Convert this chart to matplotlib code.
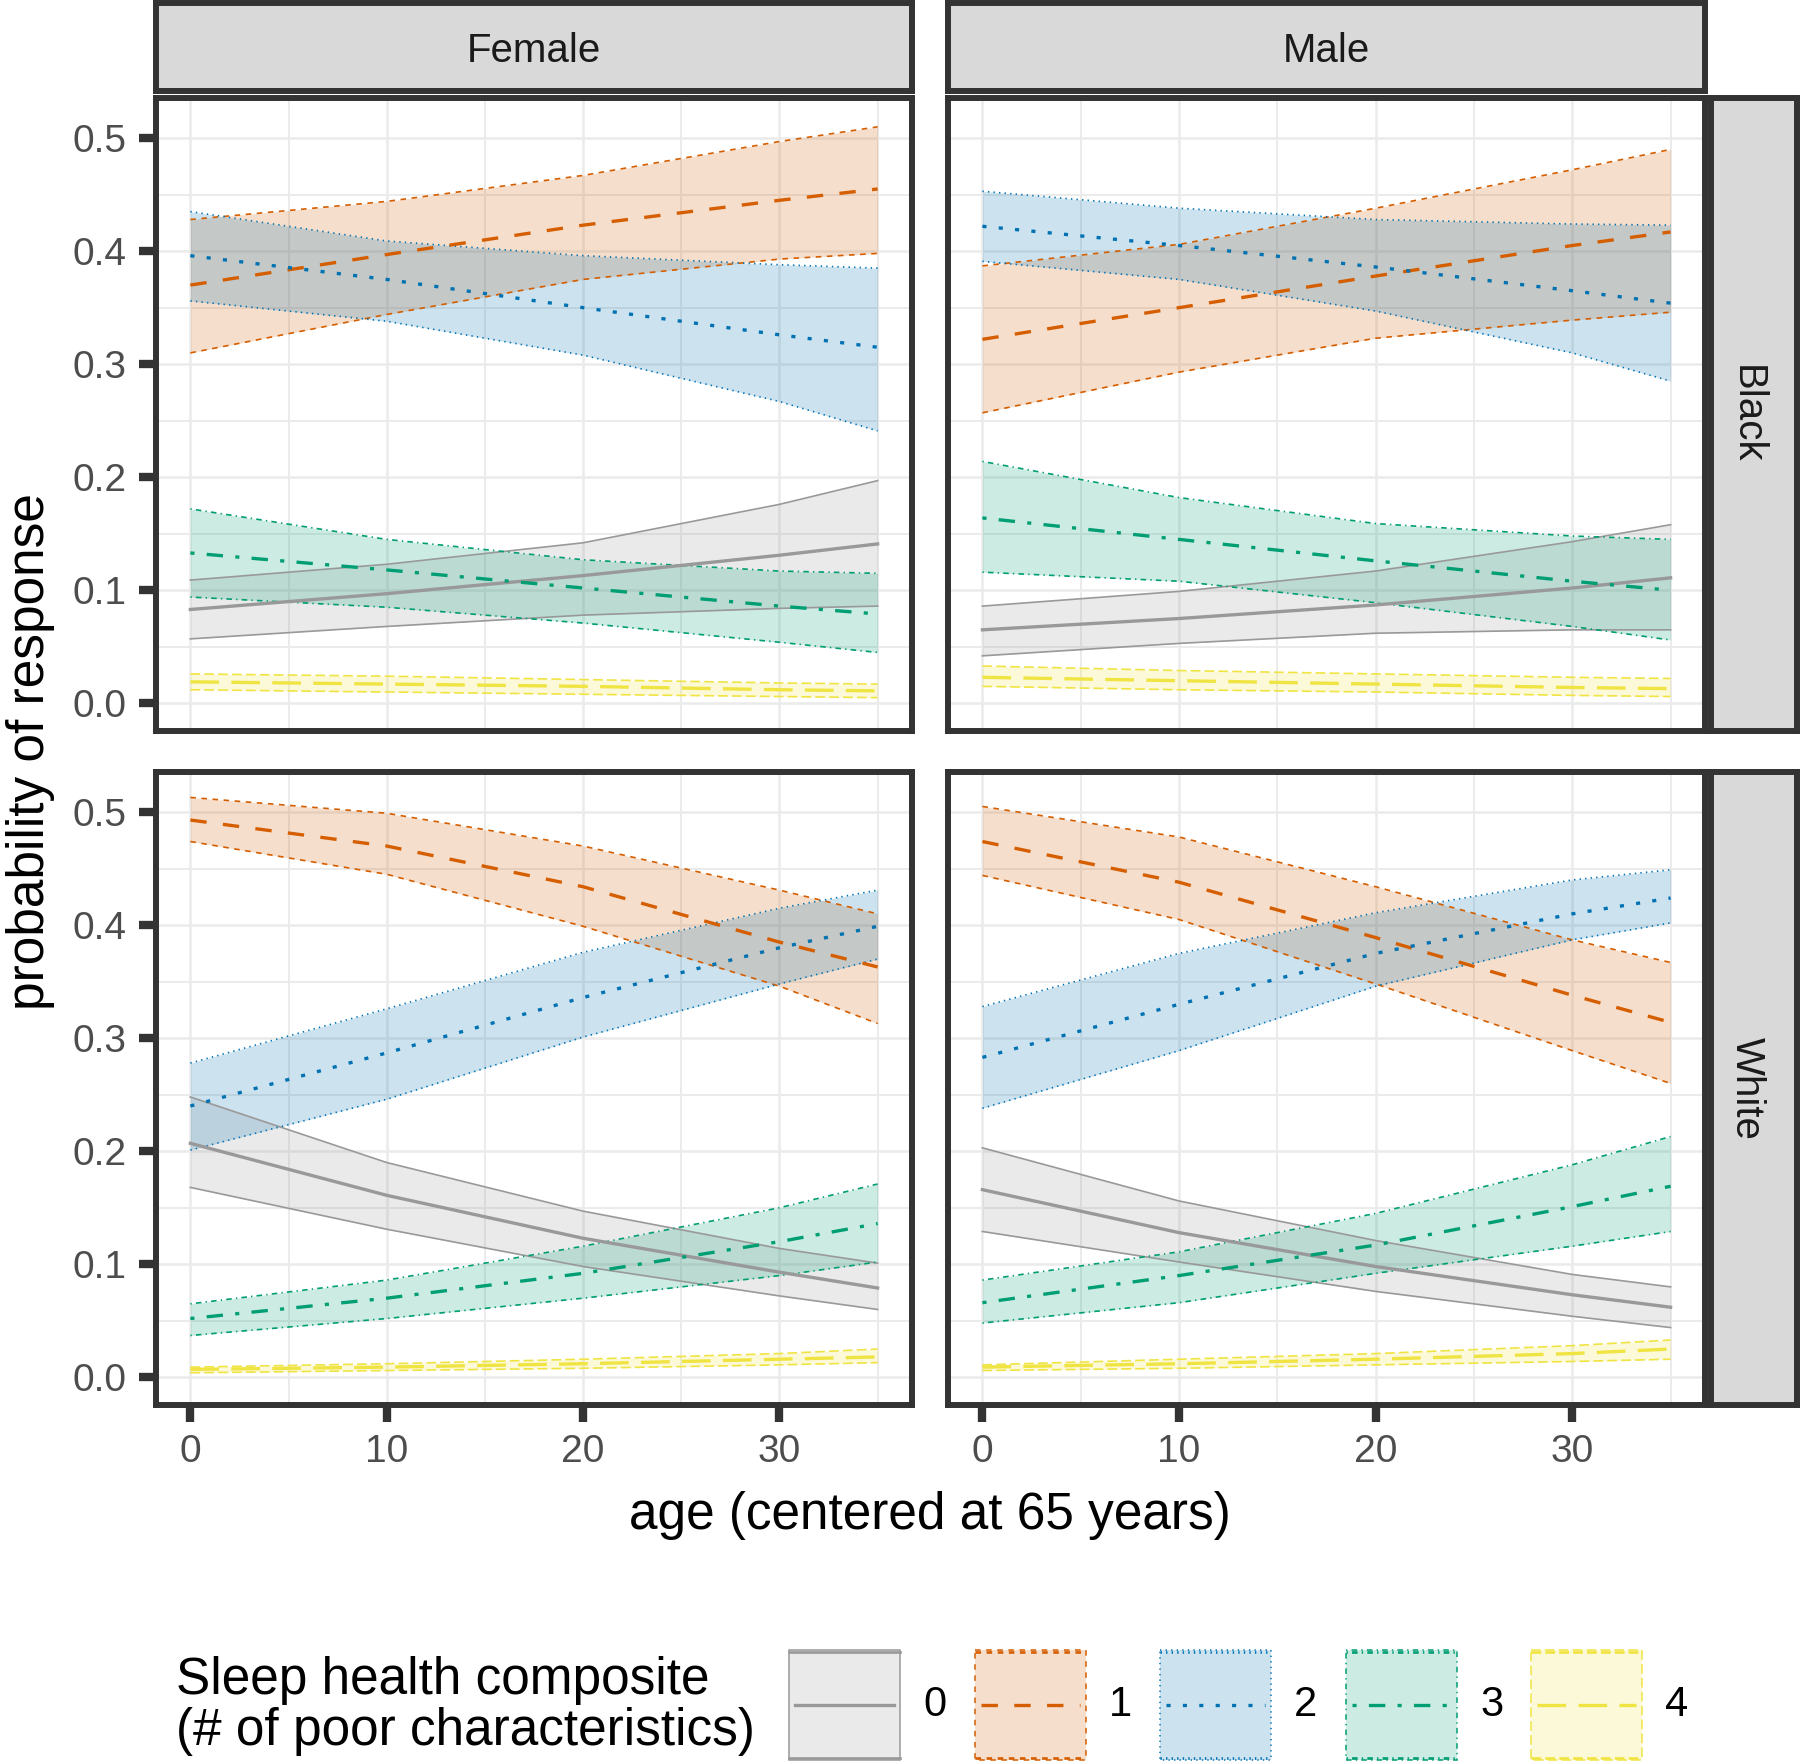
import matplotlib.pyplot as plt
from matplotlib.patches import Rectangle
from matplotlib.ticker import MultipleLocator

plt.rcParams['font.family'] = ['Liberation Sans', 'DejaVu Sans']
plt.rcParams['lines.scale_dashes'] = False

# ---- data ----
age = [0, 10, 20, 30, 35]
levels = ['0', '1', '2', '3', '4']
sex_labels = ['Female', 'Male']
race_labels = ['Black', 'White']
x_ticks = [0, 10, 20, 30]
y_ticks = [0.0, 0.1, 0.2, 0.3, 0.4, 0.5]

# one row per sleep health level (0..4), one column per age value
female_black_fit = [[0.083, 0.097, 0.113, 0.131, 0.141],
                    [0.370, 0.397, 0.423, 0.445, 0.455],
                    [0.396, 0.375, 0.350, 0.326, 0.315],
                    [0.133, 0.118, 0.102, 0.086, 0.079],
                    [0.019, 0.017, 0.015, 0.012, 0.011]]
female_black_low = [[0.057, 0.068, 0.078, 0.084, 0.086],
                    [0.310, 0.344, 0.375, 0.393, 0.398],
                    [0.356, 0.338, 0.308, 0.267, 0.241],
                    [0.094, 0.085, 0.071, 0.054, 0.045],
                    [0.012, 0.010, 0.008, 0.006, 0.005]]
female_black_high = [[0.109, 0.123, 0.142, 0.176, 0.197],
                     [0.428, 0.444, 0.467, 0.497, 0.510],
                     [0.435, 0.409, 0.396, 0.388, 0.385],
                     [0.172, 0.145, 0.127, 0.117, 0.115],
                     [0.026, 0.024, 0.021, 0.018, 0.017]]

male_black_fit = [[0.065, 0.075, 0.087, 0.102, 0.111],
                  [0.322, 0.350, 0.378, 0.405, 0.417],
                  [0.422, 0.405, 0.386, 0.365, 0.354],
                  [0.164, 0.145, 0.126, 0.108, 0.100],
                  [0.023, 0.020, 0.017, 0.014, 0.013]]
male_black_low = [[0.042, 0.053, 0.062, 0.065, 0.065],
                  [0.257, 0.293, 0.323, 0.339, 0.346],
                  [0.391, 0.375, 0.347, 0.310, 0.285],
                  [0.116, 0.108, 0.089, 0.068, 0.056],
                  [0.015, 0.012, 0.010, 0.007, 0.006]]
male_black_high = [[0.086, 0.099, 0.117, 0.143, 0.158],
                   [0.387, 0.406, 0.438, 0.472, 0.490],
                   [0.453, 0.438, 0.428, 0.424, 0.423],
                   [0.214, 0.182, 0.159, 0.148, 0.145],
                   [0.033, 0.029, 0.026, 0.023, 0.022]]

female_white_fit = [[0.207, 0.161, 0.123, 0.093, 0.079],
                    [0.493, 0.470, 0.434, 0.385, 0.363],
                    [0.240, 0.287, 0.336, 0.380, 0.399],
                    [0.052, 0.070, 0.092, 0.120, 0.136],
                    [0.007, 0.009, 0.012, 0.016, 0.018]]
female_white_low = [[0.168, 0.131, 0.098, 0.072, 0.060],
                    [0.474, 0.445, 0.399, 0.346, 0.313],
                    [0.201, 0.246, 0.301, 0.348, 0.370],
                    [0.037, 0.052, 0.070, 0.090, 0.102],
                    [0.004, 0.006, 0.008, 0.011, 0.013]]
female_white_high = [[0.248, 0.190, 0.147, 0.114, 0.101],
                     [0.513, 0.499, 0.470, 0.431, 0.410],
                     [0.278, 0.326, 0.376, 0.415, 0.431],
                     [0.065, 0.086, 0.116, 0.150, 0.171],
                     [0.009, 0.012, 0.016, 0.021, 0.025]]

male_white_fit = [[0.166, 0.128, 0.098, 0.073, 0.062],
                  [0.474, 0.438, 0.389, 0.338, 0.314],
                  [0.283, 0.330, 0.375, 0.410, 0.424],
                  [0.066, 0.090, 0.117, 0.151, 0.169],
                  [0.009, 0.012, 0.016, 0.021, 0.025]]
male_white_low = [[0.129, 0.102, 0.076, 0.054, 0.044],
                  [0.444, 0.405, 0.348, 0.289, 0.260],
                  [0.238, 0.289, 0.346, 0.387, 0.402],
                  [0.048, 0.066, 0.092, 0.116, 0.129],
                  [0.006, 0.008, 0.011, 0.014, 0.016]]
male_white_high = [[0.203, 0.156, 0.121, 0.091, 0.080],
                   [0.505, 0.478, 0.434, 0.387, 0.367],
                   [0.328, 0.375, 0.411, 0.440, 0.449],
                   [0.086, 0.111, 0.145, 0.188, 0.213],
                   [0.011, 0.016, 0.021, 0.028, 0.033]]

# ---- styling ----
colors = ['#999999', '#D55E00', '#0072B2', '#009E73', '#F0E442']
patterns = [None, (4, 4), (1, 3), (1, 3, 4, 3), (7, 3)]
MEAN_LW, MEAN_U = 2.4, 2.95
EDGE_LW, EDGE_U = 1.2, 1.0
DARK = '#333333'
GRID = '#EBEBEB'


def dash(i, unit):
    if patterns[i] is None:
        return '-'
    return (0, tuple(v * unit for v in patterns[i]))


W, H = 1800, 1762
fig = plt.figure(figsize=(W / 100, H / 100), dpi=100)


def box(x0, y0, x1, y1):
    return [x0 / W, 1 - y1 / H, (x1 - x0) / W, (y1 - y0) / H]


col_x = [(156, 912), (948, 1705)]
row_y = [(98, 731), (772, 1405)]

panels = {(0, 0): (female_black_fit, female_black_low, female_black_high),
          (0, 1): (male_black_fit, male_black_low, male_black_high),
          (1, 0): (female_white_fit, female_white_low, female_white_high),
          (1, 1): (male_white_fit, male_white_low, male_white_high)}

for (r, c), (fit, low, high) in panels.items():
    ax = fig.add_axes(box(col_x[c][0], row_y[r][0], col_x[c][1], row_y[r][1]))
    for i in range(len(levels)):
        ax.fill_between(age, low[i], high[i], color=colors[i], alpha=0.2, lw=0)
        ax.plot(age, low[i], color=colors[i], lw=EDGE_LW, ls=dash(i, EDGE_U))
        ax.plot(age, high[i], color=colors[i], lw=EDGE_LW, ls=dash(i, EDGE_U))
    for i in range(len(levels)):
        ax.plot(age, fit[i], color=colors[i], lw=MEAN_LW, ls=dash(i, MEAN_U))
    ax.set_xlim(-1.75, 36.75)
    ax.set_ylim(-0.0245, 0.5355)
    ax.set_xticks(x_ticks)
    ax.set_yticks(y_ticks)
    ax.xaxis.set_minor_locator(MultipleLocator(5))
    ax.yaxis.set_minor_locator(MultipleLocator(0.05))
    ax.set_axisbelow(True)
    ax.grid(which='major', color=GRID, lw=1.8)
    ax.grid(which='minor', color=GRID, lw=1.4)
    ax.tick_params(which='minor', length=0)
    ax.tick_params(which='major', length=12, width=6, color=DARK, pad=9,
                   labelsize=28, labelcolor='#4D4D4D')
    if c == 0:
        ax.set_yticklabels([f'{v:.1f}' for v in y_ticks])
    else:
        ax.tick_params(axis='y', length=0, labelleft=False)
    if r == 1:
        ax.set_xticklabels([str(v) for v in x_ticks])
    else:
        ax.tick_params(axis='x', length=0, labelbottom=False)
    for s in ax.spines.values():
        s.set_color(DARK)
        s.set_linewidth(4.3)


def strip(rect, label, rotation, dx=0.0, dy=0.0):
    sa = fig.add_axes(rect)
    sa.set_facecolor('#D9D9D9')
    sa.set_xticks([])
    sa.set_yticks([])
    for s in sa.spines.values():
        s.set_color(DARK)
        s.set_linewidth(4.3)
    sa.text(0.5 + dx, 0.5 + dy, label, transform=sa.transAxes, ha='center',
            va='center', rotation=rotation, fontsize=29, color='#1A1A1A')


for c in range(2):
    strip(box(col_x[c][0], 3, col_x[c][1], 91), sex_labels[c], 0, dy=-0.05)
for r in range(2):
    strip(box(1711, row_y[r][0], 1797, row_y[r][1]), race_labels[r], -90,
          dx=-0.08)

fig.text(930 / W, 1 - 1515 / H, 'age (centered at 65 years)', ha='center',
         va='center', fontsize=37)
fig.text(31 / W, 1 - 752 / H, 'probability of response', ha='center',
         va='center', rotation=90, fontsize=37)

# ---- legend ----
lg = fig.add_axes([0, 0, 1, 1], zorder=-1)
lg.set_xlim(0, W)
lg.set_ylim(H, 0)
lg.axis('off')
lg.text(176, 1706, 'Sleep health composite\n(# of poor characteristics)',
        ha='left', va='center', fontsize=37, linespacing=1.05)
key_w, key_h, key_top = 111, 110, 1650
for i, lab in enumerate(levels):
    x0 = 789 + i * 185.5
    lg.add_patch(Rectangle((x0, key_top), key_w, key_h, facecolor=colors[i],
                           alpha=0.2, lw=0))
    lg.add_patch(Rectangle((x0, key_top), key_w, key_h, facecolor='none',
                           edgecolor=colors[i], lw=1.1, ls=dash(i, EDGE_U)))
    for yy in (key_top + 2, key_top + key_h - 2):
        lg.plot([x0, x0 + key_w], [yy, yy], color=colors[i], lw=EDGE_LW * 1.6,
                ls=dash(i, EDGE_U))
    lg.plot([x0 + 6, x0 + key_w - 6], [key_top + key_h / 2] * 2, color=colors[i],
            lw=MEAN_LW, ls=dash(i, MEAN_U))
    lg.text(x0 + key_w + 35, key_top + key_h / 2, lab, ha='center', va='center',
            fontsize=30)

fig.savefig('out.png', dpi=100)
